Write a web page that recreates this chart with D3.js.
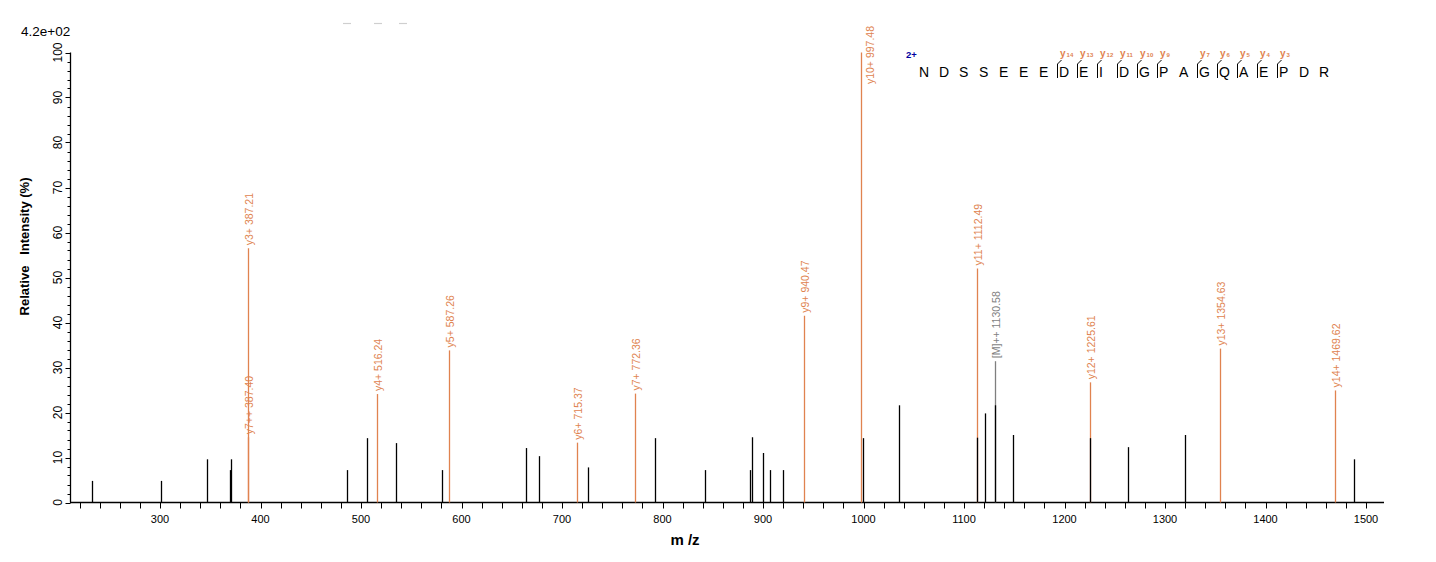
<!DOCTYPE html>
<html>
<head>
<meta charset="utf-8">
<script src="https://cdn.jsdelivr.net/npm/d3@7"></script>
<style>
  html, body { margin: 0; padding: 0; background: #fff; }
  svg { display: block; font-family: Arial, "Liberation Sans", sans-serif; }
</style>
</head>
<body>
<svg id="chart" width="1436" height="562"></svg>
<script>
// ---------- data ----------
const unlabeledMz  = [232.6, 301.3, 347.0, 370.0, 371.0, 486.4, 506.3, 535.2, 581.0, 663.9, 677.4, 726.2, 792.9, 842.6, 886.8, 889.4, 900.4, 907.3, 920.3, 999.8, 1035.6, 1113.0, 1121.0, 1131.0, 1149.0, 1225.7, 1263.5, 1320.2, 1488.4];
const unlabeledInt = [4.8, 4.8, 9.6, 7.2, 9.6, 7.2, 14.3, 13.2, 7.2, 12.1, 10.3, 7.8, 14.3, 7.2, 7.2, 14.5, 11.0, 7.2, 7.2, 14.3, 21.6, 14.4, 19.8, 21.6, 15.0, 14.3, 12.3, 15.0, 9.6];

const ionNames = ["y3+", "y7++", "y4+", "y5+", "y6+", "y7+", "y9+", "y10+", "y11+", "[M]++", "y12+", "y13+", "y14+"];
const ionMz    = [387.21, 387.40, 516.24, 587.26, 715.37, 772.36, 940.47, 997.48, 1112.49, 1130.58, 1225.61, 1354.63, 1469.62];
const ionInt   = [56.5, 14.5, 24.1, 33.8, 13.3, 24.2, 41.5, 100, 52.0, 31.4, 26.7, 34.2, 24.9];
const ionKind  = ["y", "y", "y", "y", "y", "y", "y", "y", "y", "M", "y", "y", "y"];

const xTickValues = [300, 400, 500, 600, 700, 800, 900, 1000, 1100, 1200, 1300, 1400, 1500];
const yTickValues = [0, 10, 20, 30, 40, 50, 60, 70, 80, 90, 100];

const sequence  = ["N","D","S","S","E","E","E","D","E","I","D","G","P","A","G","Q","A","E","P","D","R"];
const yIonNums  = [14, 13, 12, 11, 10, 9, 7, 6, 5, 4, 3];
const charge    = "2+";
const maxIntensityLabel = "4.2e+02";

// ---------- style ----------
const ORANGE = "#e0834f";
const GRAY = "#7f7f7f";

const svg = d3.select("#chart");

const x = d3.scaleLinear().domain([211.4, 1517.9]).range([71, 1384]);
const y = d3.scaleLinear().domain([0, 100]).range([502.5, 52.5]);
const px = v => Math.round(x(v)) + 0.5;

// faint top remnants
svg.append("g").selectAll("line").data([343, 374, 399]).join("line")
  .attr("x1", d => d).attr("x2", d => d + 8).attr("y1", 23.5).attr("y2", 23.5)
  .attr("stroke", "#cfcfcf").attr("stroke-width", 1.2);

// max intensity label
svg.append("text").attr("x", 21).attr("y", 36).attr("font-size", 13.5).attr("fill", "#000")
  .text(maxIntensityLabel);

// ---------- axes ----------
// X axis
const xAxisG = svg.append("g").attr("transform", `translate(0,${y(0)})`);
xAxisG.append("line").attr("x1", 70).attr("x2", 1384).attr("y1", 0).attr("y2", 0)
  .attr("stroke", "#000").attr("stroke-width", 1.3);
const xMinor = d3.range(220, 1518, 20);
xAxisG.selectAll("line.tk").data(xMinor).join("line").attr("class", "tk")
  .attr("x1", d => px(d)).attr("x2", d => px(d))
  .attr("y1", 0).attr("y2", 6).attr("stroke", "#000").attr("stroke-width", 1);
xAxisG.selectAll("text").data(xTickValues).join("text")
  .attr("x", d => x(d)).attr("y", 20).attr("text-anchor", "middle")
  .attr("font-size", 11).attr("fill", "#000").text(d => d);

// Y axis
const yAxisG = svg.append("g");
yAxisG.append("line").attr("x1", 70.5).attr("x2", 70.5).attr("y1", y(100)).attr("y2", y(0))
  .attr("stroke", "#000").attr("stroke-width", 1.3);
const yMinor = d3.range(0, 101, 2);
yAxisG.selectAll("line.tk").data(yMinor).join("line").attr("class", "tk")
  .attr("x1", d => d % 10 === 0 ? 65.5 : 67.5).attr("x2", 70.5)
  .attr("y1", d => Math.round(y(d)) + 0.5).attr("y2", d => Math.round(y(d)) + 0.5)
  .attr("stroke", "#000").attr("stroke-width", 1);
yAxisG.selectAll("text").data(yTickValues).join("text")
  .attr("transform", d => `translate(62,${y(d)}) rotate(-90)`)
  .attr("text-anchor", "middle").attr("font-size", 12).attr("fill", "#000").text(d => d);

// Axis titles
svg.append("text").attr("transform", "translate(29,246.5) rotate(-90)")
  .attr("text-anchor", "middle").attr("font-size", 13).attr("font-weight", "bold")
  .attr("xml:space", "preserve").style("white-space", "pre")
  .text("Relative   Intensity (%)");
svg.append("text").attr("x", 685).attr("y", 545).attr("text-anchor", "middle")
  .attr("font-size", 15).attr("font-weight", "bold").attr("xml:space", "preserve")
  .style("white-space", "pre").text("m /z");

// ---------- peaks ----------
const ions = ionNames.map((n, i) => ({ name: n, mz: ionMz[i], inten: ionInt[i], kind: ionKind[i] }));
svg.append("g").selectAll("line").data(ions).join("line")
  .attr("x1", d => px(d.mz)).attr("x2", d => px(d.mz))
  .attr("y1", y(0)).attr("y2", d => y(d.inten))
  .attr("stroke", d => d.kind === "M" ? GRAY : ORANGE).attr("stroke-width", 1.3);

const unl = unlabeledMz.map((m, i) => ({ mz: m, inten: unlabeledInt[i] }));
svg.append("g").selectAll("line").data(unl).join("line")
  .attr("x1", d => px(d.mz)).attr("x2", d => px(d.mz))
  .attr("y1", y(0)).attr("y2", d => y(d.inten))
  .attr("stroke", "#000").attr("stroke-width", 1.3);

// ion labels (labels that would run off the top are moved down beside their line)
const topLimit = 26;
svg.append("g").selectAll("text").data(ions).join("text")
  .attr("font-size", 10.5)
  .attr("fill", d => d.kind === "M" ? GRAY : ORANGE)
  .text(d => `${d.name} ${d.mz.toFixed(2)}`)
  .each(function (d) {
    const len = this.getComputedTextLength();
    let startY = y(d.inten) - 3;
    let dx = 4.5;
    if (startY - len < topLimit) { startY = topLimit + len; dx = 12.5; }
    d3.select(this).attr("transform", `translate(${Math.round(x(d.mz)) + dx},${startY}) rotate(-90)`);
  });

// ---------- peptide sequence ----------
const seqX0 = 919, seqStep = 20, seqBase = 77;
const seqG = svg.append("g");
seqG.append("text").attr("x", 906).attr("y", 57.5).attr("font-size", 9.5)
  .attr("font-weight", "bold").attr("fill", "#0000a0").text(charge);
seqG.selectAll("text.aa").data(sequence).join("text").attr("class", "aa")
  .attr("x", (d, i) => seqX0 + i * seqStep).attr("y", seqBase)
  .attr("font-size", 14).attr("fill", "#000").text(d => d);

const n = sequence.length;
const frag = yIonNums.map(k => ({ k, idx: n - k }));
seqG.selectAll("path.br").data(frag).join("path").attr("class", "br")
  .attr("d", d => {
    const bx = seqX0 + d.idx * seqStep - 1.5;
    return `M${bx},${seqBase + 1} L${bx},${seqBase - 13} L${bx + 4},${seqBase - 17}`;
  })
  .attr("fill", "none").attr("stroke", "#000").attr("stroke-width", 1);

const lab = seqG.selectAll("text.yl").data(frag).join("text").attr("class", "yl")
  .attr("x", d => seqX0 + d.idx * seqStep + 1).attr("y", 57)
  .attr("fill", ORANGE).attr("font-weight", "bold").attr("font-size", 10);
lab.append("tspan").text("y");
lab.append("tspan").attr("font-size", 6).attr("dx", 1).text(d => d.k);
</script>
</body>
</html>
